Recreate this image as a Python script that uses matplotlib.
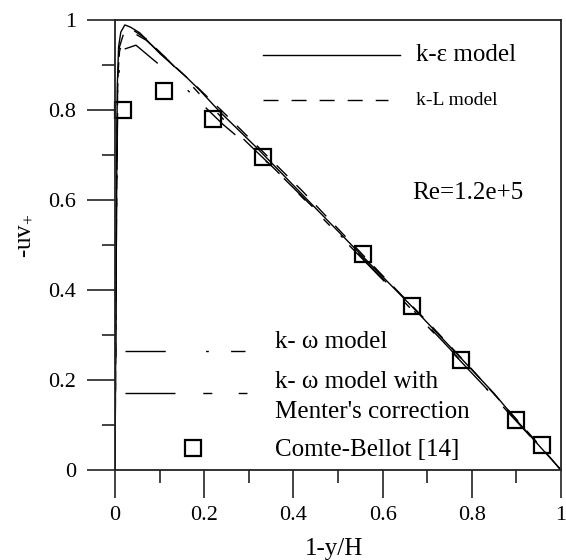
"""Shear stress profile -uv+ across the channel: four turbulence models vs. Comte-Bellot data."""
import matplotlib
matplotlib.use("Agg")
import matplotlib.pyplot as plt
from matplotlib.lines import Line2D
from matplotlib.ticker import MultipleLocator

plt.rcParams['font.family'] = ['Liberation Serif', 'DejaVu Serif']
plt.rcParams['mathtext.fontset'] = 'custom'
plt.rcParams['mathtext.rm'] = 'Liberation Serif'
plt.rcParams['mathtext.it'] = 'Liberation Serif:italic'
plt.rcParams['lines.scale_dashes'] = False

# k-epsilon model (solid)
ke_x = [0.0, 0.003, 0.005, 0.008, 0.013, 0.022, 0.035, 0.056, 0.10, 0.16, 0.19,
        0.235, 0.32, 0.42, 0.55, 0.667, 0.78, 0.85, 0.906, 0.95, 1.0]
ke_y = [0.0, 0.50, 0.85, 0.94, 0.973, 0.989, 0.984, 0.971, 0.926, 0.873, 0.844,
        0.796, 0.714, 0.612, 0.480, 0.362, 0.244, 0.170, 0.104, 0.055, 0.0]

# k-L model (dashed)
kl_x = [0.0, 0.003, 0.006, 0.01, 0.02, 0.04, 0.07, 0.12, 0.18, 0.25, 0.33,
        0.42, 0.5, 0.6, 0.7, 0.8, 0.9, 0.95, 1.0]
kl_y = [0.0, 0.55, 0.86, 0.94, 0.972, 0.978, 0.958, 0.91, 0.855, 0.788, 0.709,
        0.62, 0.536, 0.432, 0.33, 0.224, 0.113, 0.057, 0.0]

# k-omega model (long dash - dot)
kw_x = [0.0, 0.003, 0.006, 0.01, 0.02, 0.047, 0.10, 0.146, 0.19, 0.242, 0.29,
        0.35, 0.45, 0.55, 0.65, 0.75, 0.85, 0.93, 1.0]
kw_y = [0.0, 0.52, 0.82, 0.90, 0.935, 0.944, 0.90, 0.86, 0.818, 0.768, 0.728,
        0.676, 0.578, 0.476, 0.375, 0.27, 0.162, 0.076, 0.0]

# k-omega model with Menter's correction (long dash - short dashes)
km_x = [0.0, 0.003, 0.006, 0.01, 0.02, 0.035, 0.07, 0.12, 0.19, 0.25, 0.30,
        0.36, 0.45, 0.55, 0.65, 0.75, 0.85, 0.93, 1.0]
km_y = [0.0, 0.52, 0.85, 0.93, 0.966, 0.975, 0.955, 0.91, 0.835, 0.772, 0.724,
        0.667, 0.575, 0.474, 0.372, 0.268, 0.163, 0.078, 0.0]

# Comte-Bellot [14] experiment
cb_x = [0.018, 0.11, 0.219, 0.331, 0.555, 0.665, 0.776, 0.9, 0.958]
cb_y = [0.80, 0.842, 0.78, 0.696, 0.48, 0.364, 0.244, 0.112, 0.055]

x_ticks = [0, 0.2, 0.4, 0.6, 0.8, 1]
x_ticklabels = ['0', '0.2', '0.4', '0.6', '0.8', '1']
y_ticks = [0, 0.2, 0.4, 0.6, 0.8, 1]
y_ticklabels = ['0', '0.2', '0.4', '0.6', '0.8', '1']

# line styles (on/off lengths in points)
ls_ke = '-'
ls_kl = (0, (10.8, 9.4))
ls_kw = (0, (29, 29, 2, 16))
ls_km = (0, (36, 20, 6.5, 19, 6.5, 20))

fig = plt.figure(figsize=(5.66, 5.6), dpi=100)
ax = fig.add_axes([0.2032, 0.1607, 0.788, 0.8036])

lw = 1.0
ax.plot(ke_x, ke_y, color='black', lw=lw, ls=ls_ke)
ax.plot(kl_x, kl_y, color='black', lw=lw, ls=ls_kl)
ax.plot(kw_x, kw_y, color='black', lw=lw, ls=ls_kw)
ax.plot(km_x, km_y, color='black', lw=lw, ls=ls_km)
ax.plot(cb_x, cb_y, ls='none', marker='s', ms=12, mfc='none', mec='black', mew=1.6,
        clip_on=False)

ax.set_xlim(0, 1)
ax.set_ylim(0, 1)
ax.set_xticks(x_ticks)
ax.set_xticklabels(x_ticklabels)
ax.set_yticks(y_ticks)
ax.set_yticklabels(y_ticklabels)
ax.xaxis.set_minor_locator(MultipleLocator(0.1))
ax.yaxis.set_minor_locator(MultipleLocator(0.1))
ax.tick_params(which='both', direction='out', width=1.2, color='#222222')
ax.tick_params(which='major', length=20, labelsize=16)
ax.tick_params(axis='x', which='major', pad=6)
ax.tick_params(axis='y', which='major', pad=8)
ax.tick_params(which='minor', length=9.4)
for s in ax.spines.values():
    s.set_linewidth(1.3)
    s.set_color('#222222')

ax.set_xlabel('1-y/H', fontsize=18)
ax.xaxis.set_label_coords(0.49, -0.152)
ax.set_ylabel(r'-uv$_{+}$', fontsize=18, va='center')
ax.yaxis.set_label_coords(-0.205, 0.52)

# legend, top right
tr = ax.transAxes
ax.add_line(Line2D([0.332, 0.64], [0.922, 0.922], transform=tr, color='black', lw=lw, ls=ls_ke))
ax.text(0.674, 0.922, 'k-ε model', transform=tr, fontsize=18, va='center')
ax.add_line(Line2D([0.332, 0.613], [0.822, 0.822], transform=tr, color='black', lw=lw, ls=ls_kl))
ax.text(0.674, 0.822, 'k-L model', transform=tr, fontsize=14, va='center')

ax.text(0.667, 0.616, 'Re=1.2e+5', transform=tr, fontsize=18, va='center')

# legend, bottom left
ax.add_line(Line2D([0.022, 0.292], [0.264, 0.264], transform=tr, color='black', lw=lw, ls=ls_kw))
ax.text(0.359, 0.284, 'k- ω model', transform=tr, fontsize=18, va='center')
ax.add_line(Line2D([0.022, 0.297], [0.171, 0.171], transform=tr, color='black', lw=lw, ls=ls_km))
ax.text(0.359, 0.196, 'k- ω model with', transform=tr, fontsize=18, va='center')
ax.text(0.359, 0.129, "Menter's correction", transform=tr, fontsize=18, va='center')
ax.add_line(Line2D([0.175], [0.049], transform=tr, ls='none', marker='s', ms=12,
                   mfc='none', mec='black', mew=1.6))
ax.text(0.359, 0.044, 'Comte-Bellot [14]', transform=tr, fontsize=18, va='center')

fig.savefig('out.png', dpi=100)
